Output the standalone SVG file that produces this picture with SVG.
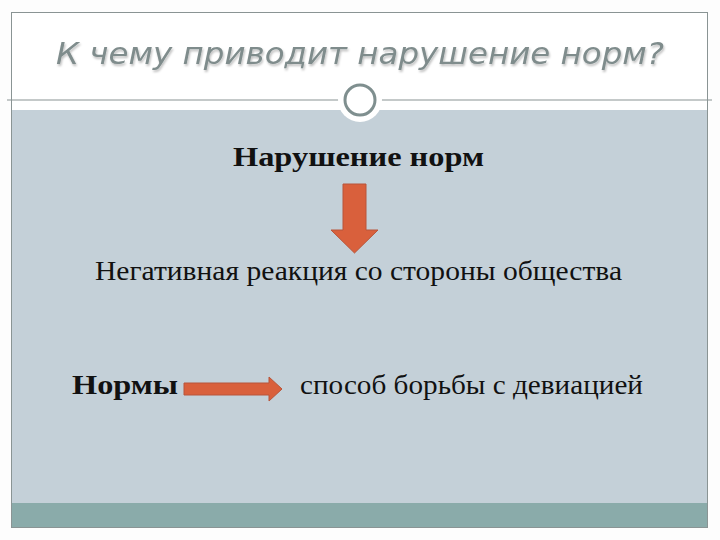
<svg xmlns="http://www.w3.org/2000/svg" width="720" height="540" viewBox="0 0 720 540">
<defs>
<style>
.t{font-family:"Liberation Serif","Times New Roman",serif;font-size:27px;fill:#111}
.b{font-weight:bold}
.arrow{fill:#d9603c;stroke:#b8553a;stroke-width:1}
</style>
<filter id="sh" x="-5%" y="-20%" width="110%" height="150%">
<feDropShadow dx="1" dy="2" stdDeviation="1.2" flood-color="#000" flood-opacity="0.25"/>
</filter>
</defs>
<rect width="720" height="540" fill="#fdfdfd"/>
<g id="frame">
<rect x="11.5" y="12.5" width="696" height="515" fill="#ffffff" stroke="#8a9494" stroke-width="1"/>
<rect x="12" y="110" width="695" height="393" fill="#c4d0d8"/>
<rect x="12" y="503" width="695" height="24" fill="#8aabaa"/>
<line x1="7" y1="100" x2="712" y2="100" stroke="#8a9494" stroke-width="1.2"/>
</g>
<g id="title">
<text x="360" y="64" text-anchor="middle" font-family="DejaVu Sans, sans-serif" font-style="italic" font-size="30" fill="#7f8c8c" filter="url(#sh)" textLength="608" lengthAdjust="spacingAndGlyphs">К чему приводит нарушение норм?</text>
</g>
<g id="ornament">
<circle cx="360" cy="100" r="22" fill="#ffffff"/>
<circle cx="360" cy="100" r="15" fill="#ffffff" stroke="#7f8f8f" stroke-width="3"/>
</g>
<g id="n1"><text class="t b" x="233" y="166" textLength="251" lengthAdjust="spacingAndGlyphs">Нарушение норм</text></g>
<g id="n2"><text class="t" x="95" y="280" textLength="527" lengthAdjust="spacingAndGlyphs">Негативная реакция со стороны общества</text></g>
<g id="n3"><text class="t b" x="72" y="394" textLength="106" lengthAdjust="spacingAndGlyphs">Нормы</text></g>
<g id="n4"><text class="t" x="300" y="394" textLength="343" lengthAdjust="spacingAndGlyphs">способ борьбы с девиацией</text></g>
<g id="connectors">
<polygon class="arrow" points="343,184 366,184 366,230 378,230 354.5,253 331,230 343,230"/>
<polygon class="arrow" points="184,383 269,383 269,377 282,389 269,401 269,395 184,395"/>
</g>
</svg>
